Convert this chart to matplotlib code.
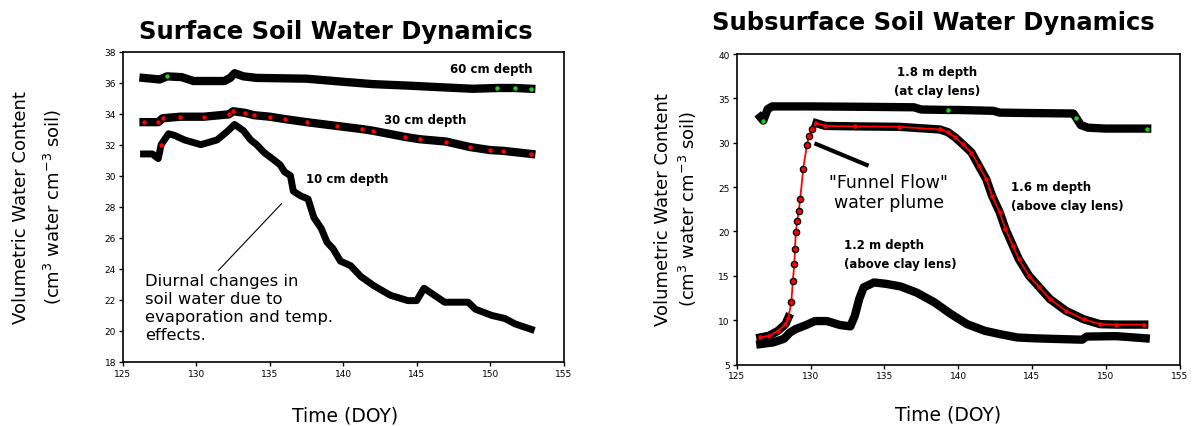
import numpy as np
import matplotlib
matplotlib.use("Agg")
import matplotlib.pyplot as plt

# ---- surface sensors (left panel) ----
x10 = [126.4, 127.0, 127.4, 127.6, 128.1, 128.5, 129.2, 130.3, 131.4, 132.1, 132.6,
       133.2, 133.7, 134.1, 134.6, 135.3, 135.7, 136.0, 136.4, 136.6, 137.1, 137.6,
       138.0, 138.5, 138.9, 139.3, 139.8, 140.5, 141.2, 142.1, 143.2, 144.4, 145.0,
       145.5, 146.2, 146.9, 148.5, 149.0, 150.1, 151.0, 151.7, 152.8]
y10 = [31.4, 31.4, 31.1, 32.0, 32.7, 32.6, 32.3, 32.0, 32.3, 32.85, 33.3,
       32.9, 32.3, 32.0, 31.5, 31.0, 30.7, 30.25, 30.0, 29.0, 28.7, 28.5,
       27.3, 26.6, 25.7, 25.3, 24.5, 24.2, 23.5, 22.9, 22.3, 21.95, 21.95,
       22.75, 22.3, 21.85, 21.85, 21.4, 21.0, 20.8, 20.45, 20.1]

x30 = [126.4, 127.4, 127.7, 128.9, 130.5, 132.2, 132.5, 133.3, 133.9, 135.0, 136.0,
       137.5, 139.6, 141.3, 142.0, 144.2, 145.2, 147.0, 148.6, 150.0, 150.9, 152.8]
y30 = [33.45, 33.45, 33.7, 33.8, 33.8, 33.95, 34.15, 34.05, 33.9, 33.8, 33.65,
       33.45, 33.2, 33.0, 32.9, 32.5, 32.35, 32.2, 31.85, 31.65, 31.6, 31.4]

x60 = [126.4, 127.5, 128.0, 129.0, 129.8, 131.9, 132.3, 132.6, 133.2, 134.1, 137.5,
       140.0, 142.0, 144.5, 146.6, 148.8, 150.5, 151.7, 152.8]
y60 = [36.3, 36.2, 36.4, 36.35, 36.1, 36.1, 36.3, 36.6, 36.4, 36.3, 36.25,
       36.05, 35.9, 35.8, 35.7, 35.6, 35.65, 35.65, 35.6]

# ---- subsurface sensors (right panel) ----
x18 = [126.6, 126.8, 127.1, 127.4, 130.0, 134.0, 137.0, 137.5, 139.3, 140.0, 142.4,
       142.8, 145.0, 147.8, 148.0, 148.3, 148.8, 150.0, 152.8]
y18 = [32.9, 32.5, 33.8, 34.1, 34.1, 34.05, 34.0, 33.75, 33.7, 33.7, 33.6,
       33.4, 33.35, 33.3, 32.8, 32.0, 31.7, 31.6, 31.6]

x16 = [126.6, 127.2, 127.8, 128.3, 128.5, 128.7, 128.8, 128.9, 128.95, 129.0, 129.1,
       129.2, 129.3, 129.5, 129.75, 129.9, 130.1, 130.4, 131.0, 133.0, 136.0, 138.75,
       139.3, 139.8, 140.3, 140.9, 141.4, 141.9, 142.3, 142.8, 143.2, 143.7, 144.1,
       144.8, 145.5, 146.2, 147.3, 148.5, 149.6, 150.7, 152.6]
y16 = [8.05, 8.25, 8.8, 9.55, 10.3, 12.0, 14.4, 16.3, 18.0, 19.9, 21.2,
       22.3, 23.65, 27.0, 29.7, 30.8, 31.5, 32.2, 31.9, 31.85, 31.8, 31.5,
       31.2, 30.6, 29.85, 28.9, 27.4, 25.9, 24.0, 22.2, 20.3, 18.4, 16.9,
       15.0, 13.7, 12.4, 11.05, 10.1, 9.55, 9.5, 9.5]

x12 = [126.6, 127.5, 128.2, 128.6, 129.0, 129.7, 130.3, 131.1, 132.0, 132.7, 133.0,
       133.3, 133.6, 134.3, 135.1, 136.1, 137.2, 138.4, 139.5, 140.6, 141.8, 142.9,
       144.0, 145.2, 147.3, 148.4, 148.7, 150.7, 152.7]
y12 = [7.3, 7.5, 7.9, 8.6, 9.0, 9.45, 9.9, 9.9, 9.45, 9.3, 10.5,
       12.4, 13.7, 14.25, 14.1, 13.8, 13.1, 12.0, 10.7, 9.55, 8.8, 8.4,
       8.05, 7.95, 7.85, 7.8, 8.15, 8.2, 7.95]

left_yticks = list(range(18, 39, 2))
right_yticks = list(range(5, 41, 5))
xticks = list(range(125, 156, 5))

fig = plt.figure(figsize=(11.94, 4.27), dpi=100)
ax1 = fig.add_axes([0.103, 0.150, 0.369, 0.727])
ax2 = fig.add_axes([0.617, 0.144, 0.371, 0.727])

for ax in (ax1, ax2):
    ax.set_xlim(125, 155)
    ax.set_xticks(xticks)
    ax.tick_params(direction="out", length=3, width=1, labelsize=6.5, pad=2)
    for s in ax.spines.values():
        s.set_linewidth(1.2)

# left panel
ax1.set_ylim(18, 38)
ax1.set_yticks(left_yticks)
ax1.plot(x60, y60, color="black", lw=6)
ax1.plot(x60, y60, ls="none", marker="o", ms=2.2, color="#22cc22", markevery=[2, 16, 17, 18])
ax1.plot(x30, y30, color="black", lw=6)
ax1.plot(x30, y30, ls="none", marker="o", ms=2.2, color="red")
ax1.plot(x10, y10, color="black", lw=5)
ax1.plot(x10[3], y10[3], marker="o", ms=2.2, color="red")

ax1.text(150.1, 36.9, "60 cm depth", ha="center", va="center", fontsize=8.5, fontweight="bold")
ax1.text(145.6, 33.6, "30 cm depth", ha="center", va="center", fontsize=8.5, fontweight="bold")
ax1.text(140.3, 29.8, "10 cm depth", ha="center", va="center", fontsize=8.5, fontweight="bold")
ax1.text(126.5, 23.75, "Diurnal changes in\nsoil water due to\nevaporation and temp.\neffects.",
         ha="left", va="top", fontsize=11.8, linespacing=1.25)
ax1.plot([131.5, 135.8], [23.9, 28.2], color="black", lw=0.8)

# right panel
ax2.set_ylim(5, 40)
ax2.set_yticks(right_yticks)
ax2.plot(x18, y18, color="black", lw=6)
ax2.plot(x18, y18, ls="none", marker="o", ms=2.2, color="#22cc22", markevery=[1, 8, 14, 18])

x16a = np.array(x16)
y16a = np.array(y16, dtype=float)
rise = (x16a > 128.6) & (x16a < 130.2)
ax2.plot(x16a, np.where(rise, np.nan, y16a), color="black", lw=6)
ax2.plot(x16a, y16a, color="red", lw=1.3)
ax2.plot(x16a[rise], y16a[rise], ls="none", marker="o", ms=4.5, mfc="red", mec="black", mew=1)
ax2.plot(x16a[~rise], y16a[~rise], ls="none", marker="o", ms=2.2, color="red")

ax2.plot(x12, y12, color="black", lw=6)

ax2.text(138.55, 37.0, "1.8 m depth\n(at clay lens)", ha="center", va="center",
         fontsize=8.5, fontweight="bold", linespacing=1.6)
ax2.text(143.6, 24.0, "1.6 m depth\n(above clay lens)", ha="left", va="center",
         fontsize=8.5, fontweight="bold", linespacing=1.6)
ax2.text(132.3, 17.45, "1.2 m depth\n(above clay lens)", ha="left", va="center",
         fontsize=8.5, fontweight="bold", linespacing=1.6)
ax2.text(135.3, 24.4, "\"Funnel Flow\"\nwater plume", ha="center", va="center",
         fontsize=12.5, linespacing=1.15)
ax2.plot([130.4, 133.8], [29.85, 27.5], color="black", lw=3)

# titles and axis labels
fig.text(0.2814, 0.926, "Surface Soil Water Dynamics", ha="center", va="center",
         fontsize=17.5, fontweight="bold")
fig.text(0.7814, 0.945, "Subsurface Soil Water Dynamics", ha="center", va="center",
         fontsize=17.5, fontweight="bold")

fig.text(0.018, 0.515, "Volumetric Water Content", rotation=90, ha="center", va="center", fontsize=13)
fig.text(0.0446, 0.515, r"(cm$^{3}$ water cm$^{-3}$ soil)", rotation=90, ha="center", va="center", fontsize=13)
fig.text(663 / 1194, 0.51, "Volumetric Water Content", rotation=90, ha="center", va="center", fontsize=13)
fig.text(688 / 1194, 0.51, r"(cm$^{3}$ water cm$^{-3}$ soil)", rotation=90, ha="center", va="center", fontsize=13)

fig.text(0.289, 0.026, "Time (DOY)", ha="center", va="center", fontsize=13.5)
fig.text(0.794, 0.028, "Time (DOY)", ha="center", va="center", fontsize=13.5)

fig.savefig("out.png", dpi=100)
